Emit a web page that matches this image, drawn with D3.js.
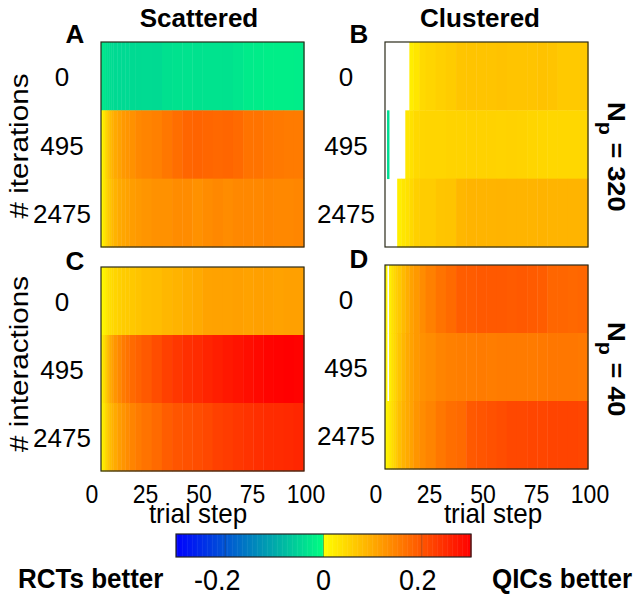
<!DOCTYPE html>
<html><head><meta charset="utf-8">
<script src="https://cdn.jsdelivr.net/npm/d3@7"></script>
<style>
html,body{margin:0;padding:0;background:#fff;}
svg{display:block;font-family:"Liberation Sans",Arial,Helvetica,sans-serif;}
</style></head>
<body><svg id="c" width="639" height="598"></svg>
<script>
// ---- data ----
const N = null;
const steps = [0,1,2,3,4,5,6,8,10,12,14,17,20,25,30,35,40,45,50,55,60,65,70,75,80,85,90,95];
const stepEnd = 100;
const rowLabels = ["0","495","2475"];
const xTickValues = [0,25,50,75,100];
const cbTickValues = [-0.2,0,0.2];
const cbTickLabels = ["-0.2","0","0.2"];
const cbDomain = [-0.3,0.3];

// Panel A: Scattered, Np = 320
const aIter0    = [-0.028,-0.03,-0.034,-0.038,-0.04,-0.042,-0.043,-0.044,-0.044,-0.044,-0.043,-0.043,-0.042,-0.043,-0.036,-0.034,-0.033,-0.034,-0.033,-0.033,-0.034,-0.03,-0.024,-0.022,-0.02,-0.02,-0.02,-0.021];
const aIter495  = [0.01,0.03,0.05,0.065,0.08,0.09,0.1,0.11,0.12,0.125,0.13,0.14,0.145,0.15,0.16,0.17,0.18,0.182,0.18,0.178,0.18,0.175,0.165,0.165,0.16,0.158,0.155,0.155];
const aIter2475 = [0.01,0.03,0.045,0.06,0.07,0.08,0.09,0.1,0.105,0.11,0.115,0.12,0.125,0.13,0.13,0.135,0.135,0.13,0.135,0.14,0.135,0.14,0.14,0.14,0.142,0.14,0.14,0.142];
// Panel B: Clustered, Np = 320
const bIter0    = [N,N,N,N,N,N,N,N,N,0.02,0.03,0.045,0.05,0.055,0.06,0.068,0.07,0.07,0.07,0.072,0.07,0.07,0.07,0.072,0.07,0.064,0.064,0.064];
const bIter495  = [N,-0.04,N,N,N,N,N,N,0.03,0.035,0.045,0.048,0.05,0.05,0.052,0.052,0.053,0.053,0.053,0.052,0.053,0.052,0.05,0.048,0.047,0.047,0.047,0.047];
const bIter2475 = [N,N,N,N,N,N,0.02,0.03,0.035,0.045,0.055,0.06,0.06,0.068,0.07,0.085,0.088,0.088,0.088,0.09,0.088,0.088,0.088,0.09,0.088,0.088,0.088,0.088];
// Panel C: Scattered, Np = 40
const cIter0    = [0.005,0.015,0.025,0.035,0.04,0.045,0.05,0.055,0.06,0.062,0.065,0.07,0.075,0.078,0.085,0.09,0.095,0.1,0.108,0.11,0.11,0.112,0.11,0.112,0.112,0.11,0.112,0.112];
const cIter495  = [0.02,0.04,0.06,0.08,0.1,0.11,0.125,0.14,0.155,0.165,0.175,0.185,0.195,0.21,0.225,0.235,0.245,0.25,0.258,0.265,0.272,0.278,0.283,0.29,0.295,0.298,0.3,0.298];
const cIter2475 = [0.015,0.03,0.05,0.065,0.08,0.09,0.1,0.115,0.125,0.135,0.145,0.155,0.165,0.175,0.19,0.2,0.205,0.21,0.215,0.225,0.23,0.235,0.24,0.245,0.248,0.25,0.252,0.255];
// Panel D: Clustered, Np = 40
const dIter0    = [0.01,N,0.02,0.035,0.045,0.055,0.065,0.08,0.095,0.11,0.12,0.135,0.15,0.165,0.175,0.19,0.192,0.195,0.195,0.195,0.193,0.195,0.193,0.19,0.18,0.18,0.178,0.18];
const dIter495  = [0.01,N,0.02,0.035,0.045,0.055,0.07,0.085,0.1,0.11,0.12,0.13,0.135,0.145,0.15,0.152,0.153,0.155,0.153,0.155,0.155,0.155,0.155,0.158,0.16,0.16,0.16,0.158];
const dIter2475 = [0.01,0.02,0.03,0.04,0.05,0.06,0.075,0.09,0.1,0.11,0.125,0.135,0.145,0.16,0.17,0.175,0.195,0.2,0.205,0.21,0.215,0.215,0.218,0.218,0.22,0.22,0.22,0.218];

// ---- layout ----
const svg = d3.select("#c");
const color = d3.scaleLinear()
  .domain([-0.3,-1e-9,0,0.3])
  .range(["#0000ff","#00ff80","#ffff00","#ff0000"])
  .clamp(true);

// text helper: vertical stretch sy, optional rotation
function txt(g, x, y, str, o) {
  o = o || {};
  const t = g.append("text")
    .attr("transform", `translate(${x},${y}) scale(1,${o.sy||1})` + (o.rot ? ` rotate(${o.rot})` : ""))
    .attr("text-anchor", o.anchor || "middle")
    .attr("font-size", o.size || 24)
    .attr("font-weight", o.bold ? "bold" : "normal")
    .attr("fill", "#000");
  if (str !== null) t.text(str);
  return t;
}

const panels = [
  {letter:"A", rows:[aIter0,aIter495,aIter2475], x:101, y:42, w:203, h:205, ylab:"# iterations", ylabY:146},
  {letter:"B", rows:[bIter0,bIter495,bIter2475], x:385, y:42, w:203, h:205, np:"320", npY:102},
  {letter:"C", rows:[cIter0,cIter495,cIter2475], x:101, y:267, w:203, h:204, ylab:"# interactions", ylabY:364, xaxis:true, tsX:198},
  {letter:"D", rows:[dIter0,dIter495,dIter2475], x:385, y:265, w:203, h:204, np:"40", npY:322, xaxis:true, tsX:493}
];

panels.forEach(p => {
  const g = svg.append("g");
  const x = d3.scaleLinear().domain([0,stepEnd]).range([p.x, p.x+p.w]);
  const y = d3.scaleBand().domain(rowLabels).range([p.y, p.y+p.h]);
  p.rows.forEach((vals, ri) => {
    vals.forEach((v, ci) => {
      if (v === null) return;
      const s0 = steps[ci], s1 = ci+1 < steps.length ? steps[ci+1] : stepEnd;
      g.append("rect")
        .attr("x", x(s0)).attr("y", y(rowLabels[ri]))
        .attr("width", x(s1)-x(s0)+0.4).attr("height", y.bandwidth()+0.4)
        .attr("fill", color(v));
    });
  });
  g.append("rect").attr("x",p.x).attr("y",p.y).attr("width",p.w).attr("height",p.h)
    .attr("fill","none").attr("stroke","#2a2a1a").attr("stroke-width",1.2);
  rowLabels.forEach(r => {
    txt(g, p.x-39, y(r)+y.bandwidth()/2+10, r, {size:26});
  });
  txt(g, p.x-26, p.y+(p.y<100?1:3), p.letter, {size:26, bold:true});
  if (p.ylab) {
    txt(g, 28, p.ylabY, p.ylab, {size:26, sy:1.14, rot:-90});
  }
  if (p.np) {
    const t = txt(g, 608, p.npY, null, {size:24, bold:true, sy:1.14, rot:90, anchor:"start"});
    t.append("tspan").text("N");
    t.append("tspan").attr("dy",9).attr("font-size",19).text("p");
    t.append("tspan").attr("dy",-9).text(" = " + p.np);
  }
  if (p.xaxis) {
    const xt = d3.scaleLinear().domain([0,100]).range([p.x-9, p.x+p.w+2]);
    xTickValues.forEach(v => {
      txt(g, xt(v), 503, String(v), {size:23, sy:1.12});
    });
    txt(g, p.tsX, 523, "trial step", {size:26, sy:1.05});
  }
});

// column titles
txt(svg, 199, 27, "Scattered", {size:26, bold:true});
txt(svg, 480, 27, "Clustered", {size:26, bold:true});

// colorbar
const cb = {x0:176, x1:471, y:534, h:23};
const cbx = d3.scaleLinear().domain(cbDomain).range([cb.x0, cb.x1]);
const cbg = svg.append("g");
const nSeg = 236;
d3.range(nSeg).forEach(i => {
  const v0 = cbDomain[0] + (cbDomain[1]-cbDomain[0])*i/nSeg;
  const v1 = cbDomain[0] + (cbDomain[1]-cbDomain[0])*(i+1)/nSeg;
  cbg.append("rect").attr("x", cbx(v0)).attr("y", cb.y)
    .attr("width", cbx(v1)-cbx(v0)+0.5).attr("height", cb.h)
    .attr("fill", color((v0+v1)/2));
});
cbTickValues.forEach((v,i) => {
  cbg.append("line").attr("x1",cbx(v)).attr("x2",cbx(v)).attr("y1",cb.y).attr("y2",cb.y+cb.h)
    .attr("stroke","#333").attr("stroke-opacity",0.35).attr("stroke-width",1);
  txt(cbg, cbx(v) - (v<0?8:(v>0?4:0)), 590, cbTickLabels[i], {size:27, sy:1.12});
});
cbg.append("rect").attr("x",cb.x0).attr("y",cb.y).attr("width",cb.x1-cb.x0).attr("height",cb.h)
  .attr("fill","none").attr("stroke","#222").attr("stroke-width",1.2);
txt(svg, 18, 588, "RCTs better", {size:26, bold:true, anchor:"start", sy:1.08});
txt(svg, 632, 588, "QICs better", {size:26, bold:true, anchor:"end", sy:1.08});
</script></body></html>
